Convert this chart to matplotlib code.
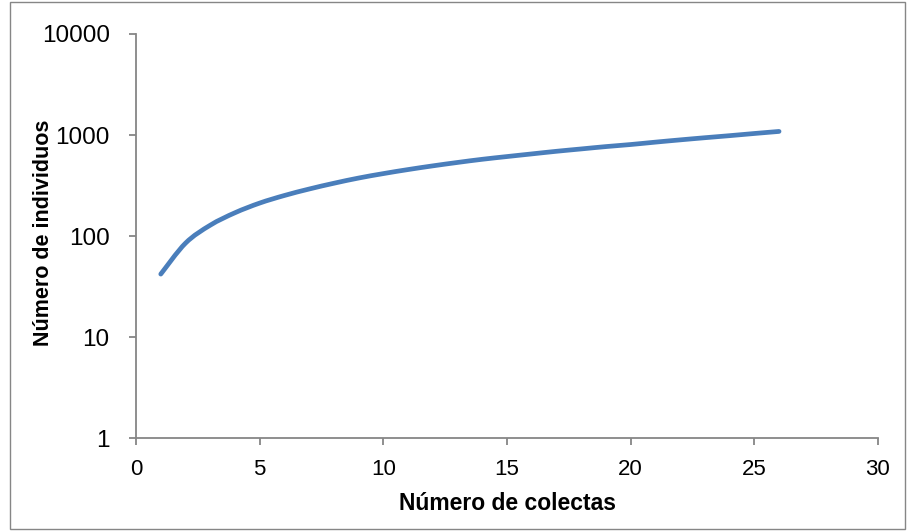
import matplotlib
matplotlib.use('Agg')
import matplotlib.pyplot as plt
from matplotlib.patches import Rectangle, PathPatch
from matplotlib.path import Path
from matplotlib.ticker import FixedLocator, FixedFormatter

# cumulative individuals per number of collections
colectas = list(range(1, 27))
individuos = [42, 85, 128, 170, 212, 252, 292, 333, 375, 415, 455, 495, 535,
              575, 612, 650, 690, 728, 768, 805, 850, 895, 940, 985, 1035, 1085]

xticks = [0, 5, 10, 15, 20, 25, 30]
yticks = [1, 10, 100, 1000, 10000]
ylabels = ['1', '10', '100', '1000', '10000']

axcol = '#868686'

fig = plt.figure(figsize=(9.07, 5.31), dpi=100)
ax = fig.add_axes([0.15, 0.175, 0.818, 0.761])

ax.set_yscale('log')
ax.set_xlim(0, 30)
ax.set_ylim(1, 10000)

# Excel-style smoothed line: cubic Bezier through the points (in display space)
pts = ax.transData.transform(list(zip(colectas, individuos)))
verts = [tuple(pts[0])]
codes = [Path.MOVETO]
n = len(pts)
for i in range(n - 1):
    p0 = pts[max(i - 1, 0)]
    p1 = pts[i]
    p2 = pts[i + 1]
    p3 = pts[min(i + 2, n - 1)]
    c1 = p1 + (p2 - p0) / 6.0
    c2 = p2 - (p3 - p1) / 6.0
    verts += [tuple(c1), tuple(c2), tuple(p2)]
    codes += [Path.CURVE4] * 3
line = PathPatch(Path(verts, codes), transform=None, fill=False,
                 edgecolor='#4A7EBB', lw=3.4, capstyle='round', joinstyle='round')
ax.add_artist(line)

ax.xaxis.set_major_locator(FixedLocator(xticks))
ax.yaxis.set_major_locator(FixedLocator(yticks))
ax.yaxis.set_major_formatter(FixedFormatter(ylabels))
ax.yaxis.set_minor_locator(FixedLocator([]))

for s in ['top', 'right']:
    ax.spines[s].set_visible(False)
for s in ['left', 'bottom']:
    ax.spines[s].set_color(axcol)
    ax.spines[s].set_linewidth(1.3)
ax.tick_params(direction='out', length=5, width=1.3, color=axcol)
ax.tick_params(axis='y', labelsize=17.5, pad=14)
ax.tick_params(axis='x', labelsize=16, pad=10)
for t in ax.get_yticklabels():
    t.set_family('Liberation Sans')
for t in ax.get_xticklabels():
    t.set_family('Liberation Sans')

ax.set_xlabel('Número de colectas', fontsize=16.5, fontweight='bold',
              family='Liberation Sans', labelpad=9)
ax.set_ylabel('Número de individuos', fontsize=15.5, fontweight='bold',
              family='Liberation Sans')
ax.yaxis.set_label_coords(-0.111, 0.507)

fig.patches.append(Rectangle((0.011, 0.004), 0.987, 0.992, transform=fig.transFigure,
                             fill=False, edgecolor=axcol, lw=1))

fig.savefig('out.png', dpi=100)
